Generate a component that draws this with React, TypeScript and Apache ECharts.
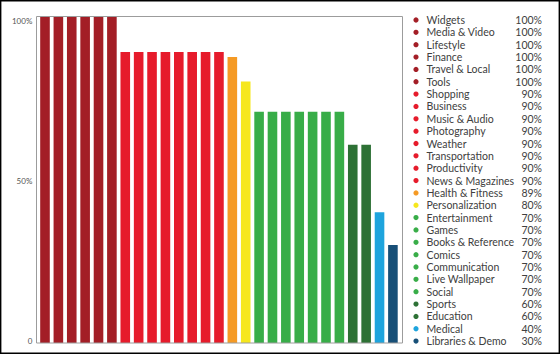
import React, { useEffect, useRef } from "react";
import * as echarts from "echarts";

const categories = [
  "Widgets", "Media & Video", "Lifestyle", "Finance", "Travel & Local", "Tools",
  "Shopping", "Business", "Music & Audio", "Photography", "Weather", "Transportation",
  "Productivity", "News & Magazines", "Health & Fitness", "Personalization",
  "Entertainment", "Games", "Books & Reference", "Comics", "Communication",
  "Live Wallpaper", "Social", "Sports", "Education", "Medical", "Libraries & Demo",
];

const values = [
  100, 100, 100, 100, 100, 100,
  89, 89, 89, 89, 89, 89, 89, 89,
  87.5, 80,
  70.7, 70.7, 70.7, 70.7, 70.7, 70.7, 70.7,
  60.6, 60.6, 40, 30,
];

const percentLabels = [
  "100%", "100%", "100%", "100%", "100%", "100%",
  "90%", "90%", "90%", "90%", "90%", "90%", "90%", "90%",
  "89%", "80%",
  "70%", "70%", "70%", "70%", "70%", "70%", "70%",
  "60%", "60%", "40%", "30%",
];

const DARKRED = "#a31e26";
const RED = "#e61b2b";
const ORANGE = "#f59a24";
const YELLOW = "#f6e71d";
const GREEN = "#38ad48";
const DARKGREEN = "#2d7135";
const BLUE = "#1ea4dd";
const NAVY = "#174f77";

const colors = [
  DARKRED, DARKRED, DARKRED, DARKRED, DARKRED, DARKRED,
  RED, RED, RED, RED, RED, RED, RED, RED,
  ORANGE, YELLOW,
  GREEN, GREEN, GREEN, GREEN, GREEN, GREEN, GREEN,
  DARKGREEN, DARKGREEN, BLUE, NAVY,
];

const yTicks = [0, 50, 100];

const FONT = "Lato, 'Noto Sans', sans-serif";

export default function App() {
  const ref = useRef<HTMLDivElement>(null);

  useEffect(() => {
    document.body.style.margin = "0";
    const chart = echarts.init(ref.current!, null, { renderer: "svg" });

    const legendItems: any[] = [];
    categories.forEach((name, i) => {
      const y = 20 + i * 12.35;
      legendItems.push({
        type: "circle",
        shape: { cx: 416, cy: y, r: 2.6 },
        style: { fill: colors[i] },
      });
      legendItems.push({
        type: "text",
        x: 426.5,
        y: y,
        style: {
          text: name,
          fill: "#404040",
          font: `10.5px ${FONT}`,
          verticalAlign: "middle",
          align: "left",
        },
      });
      legendItems.push({
        type: "text",
        x: 542,
        y: y,
        style: {
          text: percentLabels[i],
          fill: "#404040",
          font: `10.5px ${FONT}`,
          verticalAlign: "middle",
          align: "right",
        },
      });
    });

    chart.setOption({
      animation: false,
      backgroundColor: "#ffffff",
      grid: { left: 38.3, right: 160.4, top: 16, bottom: 11, containLabel: false },
      xAxis: {
        type: "category",
        data: categories,
        boundaryGap: true,
        axisLine: { show: false },
        axisTick: { show: false },
        axisLabel: { show: false },
        splitLine: { show: false },
      },
      yAxis: {
        type: "value",
        min: yTicks[0],
        max: yTicks[yTicks.length - 1],
        interval: 50,
        axisLine: { show: false },
        axisTick: { show: false },
        splitLine: { show: false },
        axisLabel: {
          margin: 6,
          formatter: (v: number) =>
            v === 0 ? "{b|0}" : v === 100 ? "{a|100%}" : "{c|" + v + "%}",
          rich: {
            a: { fontSize: 8, color: "#555", fontFamily: FONT, padding: [9, 0, 0, 0] },
            b: { fontSize: 8, color: "#555", fontFamily: FONT, padding: [0, 0, 4, 0] },
            c: { fontSize: 8, color: "#555", fontFamily: FONT, padding: [2, 0, 0, 0] },
          },
        },
      },
      series: [
        {
          type: "bar",
          barWidth: 9.6,
          data: values.map((v, i) => ({ value: v, itemStyle: { color: colors[i] } })),
        },
      ],
      graphic: [
        {
          type: "rect",
          shape: { x: 36.5, y: 16.5, width: 366, height: 326.5 },
          style: { fill: "none", stroke: "#9c9c9c", lineWidth: 1 },
          z: 10,
        },
        {
          type: "rect",
          shape: { x: 0.7, y: 0.7, width: 558.6, height: 352.6 },
          style: { fill: "none", stroke: "#000", lineWidth: 1.4 },
          z: 10,
        },
        ...legendItems,
      ],
    });

    return () => chart.dispose();
  }, []);

  return (
    <div
      ref={ref}
      style={{ position: "absolute", left: 0, top: 0, width: 560, height: 354 }}
    />
  );
}
